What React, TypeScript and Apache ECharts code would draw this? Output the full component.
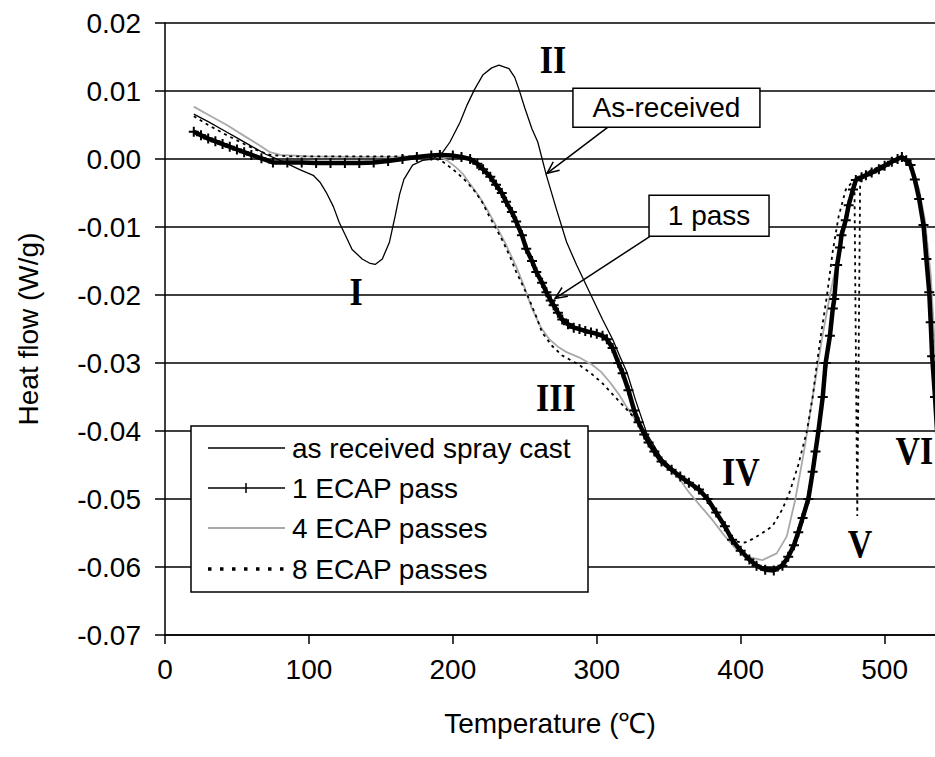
import React, { useEffect, useRef } from "react";
import * as echarts from "echarts";

// ---------- data (temperature °C, heat flow W/g) ----------
const seriesNames = ["as received spray cast", "1 ECAP pass", "4 ECAP passes", "8 ECAP passes"];

const asReceived: number[][] = [
  [20, 0.0066], [30, 0.0055], [40, 0.0043], [50, 0.0031], [60, 0.0019], [70, 0.0007], [80, -0.0002],
  [87, -0.0009], [94, -0.0016], [103, -0.0024], [108, -0.0035], [112, -0.0049], [117, -0.007],
  [121, -0.0093], [126, -0.0115], [130, -0.0133], [137, -0.0147], [142, -0.0153], [146, -0.0155],
  [151, -0.0147], [156, -0.0122], [160, -0.0083], [163, -0.0052], [166, -0.003], [172, -0.0009],
  [179, -0.0002], [186, 0.0], [193, 0.001], [198, 0.0025], [205, 0.0054], [210, 0.008], [215, 0.0102],
  [221, 0.0124], [227, 0.0134], [232, 0.0138], [239, 0.0133], [243, 0.012], [246, 0.0102], [250, 0.0075],
  [255, 0.0044], [259, 0.0025], [265, -0.0024], [272, -0.0074], [279, -0.0122], [286, -0.0156],
  [295, -0.0196], [304, -0.0236], [311, -0.0265], [316, -0.029], [321, -0.0314], [327, -0.0355],
  [335, -0.0405], [345, -0.044], [355, -0.046], [365, -0.0478], [375, -0.0495], [385, -0.0528],
  [395, -0.0562], [405, -0.0588], [415, -0.06], [425, -0.0602], [433, -0.0585], [440, -0.055],
  [446, -0.05], [451, -0.0445], [455, -0.039], [460, -0.03], [464, -0.022], [468, -0.015], [472, -0.0095],
  [477, -0.0045], [482, -0.0028], [492, -0.002], [502, -0.0008], [512, 0.0002], [518, -0.001],
  [524, -0.006], [528, -0.012], [531, -0.02], [534, -0.03], [538, -0.042],
];

const pass1: number[][] = [
  [20, 0.004], [25, 0.0035], [30, 0.003], [35, 0.0026], [40, 0.0022], [45, 0.0018], [50, 0.0014],
  [55, 0.001], [60, 0.0006], [67, 0.0001], [75, -0.0005], [85, -0.0005], [95, -0.0005], [105, -0.0006],
  [115, -0.0006], [125, -0.0006], [135, -0.0006], [145, -0.0005], [155, -0.0003], [165, 0.0],
  [175, 0.0003], [185, 0.0005], [191, 0.0006], [200, 0.0005], [206, 0.0003], [212, 0.0], [217, -0.0007],
  [221, -0.0015], [226, -0.0026], [230, -0.0038], [234, -0.005], [237, -0.0063], [241, -0.0078],
  [244, -0.0092], [248, -0.0112], [251, -0.0132], [255, -0.015], [258, -0.0166], [262, -0.0182],
  [265, -0.0196], [268, -0.0208], [270, -0.0215], [273, -0.0226], [276, -0.0236], [280, -0.0243],
  [284, -0.0248], [288, -0.025], [292, -0.0253], [296, -0.0255], [300, -0.0257], [304, -0.026],
  [307, -0.0265], [311, -0.0278], [315, -0.03], [318, -0.0315], [322, -0.034], [326, -0.037],
  [329, -0.0387], [333, -0.0405], [336, -0.0417], [340, -0.043], [345, -0.0445], [352, -0.0457],
  [358, -0.0467], [364, -0.0476], [371, -0.0486], [377, -0.05], [383, -0.052], [389, -0.054],
  [394, -0.056], [400, -0.0576], [406, -0.0589], [411, -0.0598], [417, -0.0604], [423, -0.0605],
  [429, -0.0598], [433, -0.0585], [437, -0.0568], [440, -0.0549], [443, -0.0528], [447, -0.05],
  [450, -0.046], [452, -0.043], [454, -0.04], [457, -0.035], [459, -0.03], [462, -0.026], [464, -0.022],
  [465, -0.0206], [467, -0.0156], [469, -0.013], [470, -0.0112], [473, -0.009], [475, -0.0068],
  [478, -0.0045], [480, -0.0031], [484, -0.0027], [487, -0.0024], [491, -0.002], [496, -0.0015],
  [500, -0.001], [505, -0.0004], [509, 0.0], [512, 0.0003], [515, -0.0002], [518, -0.0009],
  [521, -0.003], [524, -0.0059], [527, -0.0097], [529, -0.0147], [531, -0.0196], [532, -0.024],
  [533, -0.029], [535, -0.035], [537, -0.042],
];

const pass4: number[][] = [
  [20, 0.0077], [30, 0.0065], [43, 0.005], [55, 0.0034], [65, 0.0021], [73, 0.001], [80, 0.0006],
  [100, 0.0004], [130, 0.0003], [160, 0.0003], [180, 0.0005], [190, 0.0004], [196, -0.0002],
  [202, -0.0012], [207, -0.0022], [211, -0.0034], [218, -0.0054], [224, -0.0075], [230, -0.0098],
  [236, -0.0122], [244, -0.0158], [250, -0.019], [255, -0.022], [261, -0.0247], [267, -0.0265],
  [273, -0.0276], [279, -0.0284], [288, -0.0292], [297, -0.0303], [303, -0.0313], [309, -0.0328],
  [315, -0.0345], [320, -0.0362], [325, -0.0378], [332, -0.04], [340, -0.0428], [350, -0.0455],
  [358, -0.0472], [364, -0.049], [372, -0.051], [380, -0.053], [388, -0.0552], [396, -0.0572],
  [405, -0.0585], [415, -0.059], [425, -0.058], [432, -0.0555], [438, -0.05], [444, -0.043],
  [450, -0.035], [456, -0.027], [462, -0.02], [468, -0.014], [474, -0.0085], [478, -0.0045],
  [482, -0.0025], [492, -0.0018], [502, -0.0008], [512, 0.0001], [518, -0.0008], [524, -0.0045],
  [528, -0.009], [532, -0.017], [535, -0.028], [538, -0.04],
];

const pass8: number[][] = [
  [20, 0.0063], [30, 0.005], [43, 0.0035], [55, 0.0022], [65, 0.0012], [73, 0.0006], [85, 0.0004],
  [110, 0.0004], [140, 0.0004], [170, 0.0004], [185, 0.0003], [193, -0.0004], [200, -0.0015],
  [207, -0.0028], [214, -0.0044], [220, -0.0062], [225, -0.0083], [230, -0.0102], [235, -0.0122],
  [240, -0.0145], [244, -0.0166], [249, -0.0188], [253, -0.0206], [258, -0.0232], [262, -0.0255],
  [269, -0.0275], [276, -0.0289], [288, -0.0303], [297, -0.0317], [304, -0.033], [311, -0.0346],
  [318, -0.0362], [325, -0.0378], [333, -0.0405], [340, -0.0428], [350, -0.0455], [362, -0.0474],
  [375, -0.0497], [385, -0.053], [393, -0.0555], [398, -0.0563], [403, -0.0564], [409, -0.0558],
  [415, -0.055], [422, -0.054], [429, -0.0515], [434, -0.049], [440, -0.045], [446, -0.04],
  [450, -0.035], [453, -0.03], [456, -0.0255], [460, -0.02], [464, -0.0135], [468, -0.0085],
  [473, -0.0045], [479, -0.003], [481, -0.0525], [483, -0.003], [490, -0.0017], [500, -0.0008],
  [512, 0.0001], [518, -0.0008], [524, -0.005], [528, -0.01], [531, -0.018], [534, -0.029], [538, -0.042],
];

// annotation anchors (data coordinates)
const romanLabels = ["I", "II", "III", "IV", "V", "VI"];
const romanAt: number[][] = [
  [132.7, -0.0195], [269.6, 0.0146], [271.6, -0.0351], [400.2, -0.046], [482.9, -0.0566], [520.6, -0.0429],
];
const calloutTexts = ["As-received", "1 pass"];
const calloutBoxAt: number[][] = [[348.4, 0.00755], [378.0, -0.00836]];
const calloutTipAt: number[][] = [[265.4, -0.0021], [271.0, -0.0205]];

const SANS = "'Liberation Sans', Arial, Helvetica, sans-serif";
const SERIF = "'Liberation Serif', 'Times New Roman', serif";
const PLUS = "path://M-1.2,-6H1.2V-1.2H6V1.2H1.2V6H-1.2V1.2H-6V-1.2H-1.2Z";

function arrowHead(x1: number, y1: number, x2: number, y2: number, len = 13, ang = 0.42) {
  const a = Math.atan2(y2 - y1, x2 - x1);
  return [
    [x2 - len * Math.cos(a - ang), y2 - len * Math.sin(a - ang)],
    [x2, y2],
    [x2 - len * Math.cos(a + ang), y2 - len * Math.sin(a + ang)],
  ];
}

export default function App() {
  const ref = useRef<HTMLDivElement>(null);
  useEffect(() => {
    const chart = echarts.init(ref.current!, null, { renderer: "svg" });
    chart.setOption({
      animation: false,
      backgroundColor: "#ffffff",
      grid: { left: 165, right: 0, top: 23, bottom: 122, containLabel: false },
      xAxis: {
        type: "value",
        min: 0,
        max: 535,
        interval: 100,
        name: "Temperature (\u2103)",
        nameLocation: "middle",
        nameGap: 74,
        nameTextStyle: { fontFamily: SANS, fontSize: 28, color: "#000" },
        axisLine: { onZero: false, lineStyle: { color: "#000", width: 1.5 } },
        axisTick: { show: true, length: 9, lineStyle: { color: "#000", width: 1.5 } },
        axisLabel: { fontFamily: SANS, fontSize: 28, color: "#000", margin: 20, showMaxLabel: false },
        splitLine: { show: false },
      },
      yAxis: {
        type: "value",
        min: -0.07,
        max: 0.02,
        interval: 0.01,
        name: "Heat flow (W/g)",
        nameLocation: "middle",
        nameRotate: 90,
        nameGap: 123,
        nameTextStyle: { fontFamily: SANS, fontSize: 28, color: "#000" },
        axisLine: { onZero: false, lineStyle: { color: "#000", width: 1.5 } },
        axisTick: { show: true, length: 10, lineStyle: { color: "#000", width: 1.5 } },
        axisLabel: {
          fontFamily: SANS,
          fontSize: 28,
          color: "#000",
          margin: 24,
          formatter: (v: number) => v.toFixed(2),
        },
        splitLine: { show: true, lineStyle: { color: "#000", width: 1.5 } },
      },
      series: [
        {
          name: seriesNames[2],
          type: "line",
          data: pass4,
          showSymbol: false,
          lineStyle: { color: "#a9a9a9", width: 1.8 },
          z: 2,
        },
        {
          name: seriesNames[3],
          type: "line",
          data: pass8,
          showSymbol: false,
          lineStyle: { color: "#000", width: 1.8, type: [3, 4] },
          z: 3,
        },
        {
          name: seriesNames[0],
          type: "line",
          data: asReceived,
          showSymbol: false,
          lineStyle: { color: "#000", width: 1.3 },
          z: 4,
        },
        {
          name: seriesNames[1],
          type: "line",
          data: pass1,
          showSymbol: true,
          symbol: PLUS,
          symbolSize: 10,
          itemStyle: { color: "#000" },
          lineStyle: { color: "#000", width: 4.5 },
          z: 5,
        },
      ],
    });

    const px = (p: number[]) => chart.convertToPixel({ gridIndex: 0 }, p) as number[];
    const elements: any[] = [];

    romanLabels.forEach((t, i) => {
      const [x, y] = px(romanAt[i]);
      elements.push({
        type: "text",
        x,
        y,
        scaleX: 0.85,
        z: 100,
        style: {
          text: t,
          fontFamily: SERIF,
          fontWeight: "bold",
          fontSize: 40,
          fill: "#000",
          textAlign: "center",
          align: "center",
          textVerticalAlign: "middle",
          verticalAlign: "middle",
        },
      });
    });

    const boxSizes = [[187, 39], [120, 41]];
    const arrowOffsets = [35, 1];
    calloutTexts.forEach((t, i) => {
      const [cx, cy] = px(calloutBoxAt[i]);
      const [w, h] = boxSizes[i];
      const left = cx - w / 2;
      const top = cy - h / 2;
      const sx = left + arrowOffsets[i];
      const sy = top + h;
      const [tx, ty] = px(calloutTipAt[i]);
      elements.push({
        type: "line",
        z: 100,
        shape: { x1: sx, y1: sy, x2: tx, y2: ty },
        style: { stroke: "#000", lineWidth: 1.5 },
      });
      elements.push({
        type: "polyline",
        z: 100,
        shape: { points: arrowHead(sx, sy, tx, ty) },
        style: { stroke: "#000", lineWidth: 1.5, fill: null },
      });
      elements.push({
        type: "rect",
        z: 101,
        shape: { x: left, y: top, width: w, height: h },
        style: { fill: "#fff", stroke: "#000", lineWidth: 1.5 },
      });
      elements.push({
        type: "text",
        z: 102,
        x: cx,
        y: cy,
        style: {
          text: t,
          fontFamily: SANS,
          fontSize: 28,
          fill: "#000",
          textAlign: "center",
          align: "center",
          textVerticalAlign: "middle",
          verticalAlign: "middle",
        },
      });
    });

    // legend
    const lx = 191, ly = 426, lw = 397, lh = 166;
    elements.push({
      type: "rect",
      z: 110,
      shape: { x: lx, y: ly, width: lw, height: lh },
      style: { fill: "#fff", stroke: "#000", lineWidth: 1.5 },
    });
    const legendOrder = [0, 1, 2, 3];
    const rowY = [448, 488, 528, 569];
    legendOrder.forEach((si, r) => {
      const y = rowY[r];
      const x1 = 208, x2 = 285;
      let style: any = { stroke: "#000", lineWidth: 1.5 };
      if (si === 2) style = { stroke: "#a9a9a9", lineWidth: 1.8 };
      if (si === 3) style = { stroke: "#000", lineWidth: 3.5, lineDash: [3.5, 8.5] };
      elements.push({ type: "line", z: 111, shape: { x1, y1: y, x2, y2: y }, style });
      if (si === 1) {
        elements.push({
          type: "line",
          z: 111,
          shape: { x1: 246, y1: y - 5, x2: 246, y2: y + 5 },
          style: { stroke: "#000", lineWidth: 1.5 },
        });
      }
      elements.push({
        type: "text",
        z: 112,
        x: 292,
        y,
        style: {
          text: seriesNames[si],
          fontFamily: SANS,
          fontSize: 28,
          fill: "#000",
          textAlign: "left",
          align: "left",
          textVerticalAlign: "middle",
          verticalAlign: "middle",
        },
      });
    });

    chart.setOption({ graphic: { elements } });

    return () => chart.dispose();
  }, []);

  return (
    <div
      ref={ref}
      style={{ position: "fixed", left: 0, top: 0, width: 935, height: 757, background: "#fff" }}
    />
  );
}
